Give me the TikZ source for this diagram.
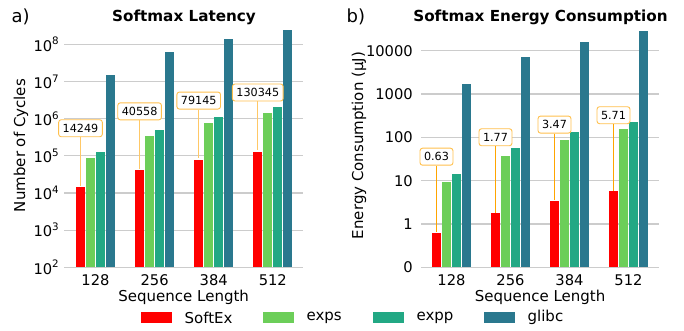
\documentclass[tikz,border=0pt]{standalone}
\usepackage{fontspec}
\setmainfont{DejaVu Sans}
\definecolor{cSoft}{HTML}{FF0000}
\definecolor{cExps}{HTML}{6CCE59}
\definecolor{cExpp}{HTML}{22A884}
\definecolor{cGlibc}{HTML}{2A788E}
\definecolor{gridc}{HTML}{CCCCCC}
\definecolor{annbox}{HTML}{FFC04D}
\definecolor{annlineA}{HTML}{FFC866}
\definecolor{annlineB}{HTML}{FFA500}
\newcommand\tenpow[1]{10\raisebox{0.42em}{\fontsize{10.3}{10}\selectfont #1}}
\begin{document}
\begin{tikzpicture}[x=1pt,y=-1pt,
  gridline/.style={draw=gridc,line width=1.1pt},
  ticklab/.style={font=\fontsize{14.7}{17}\selectfont,inner sep=0pt},
  axlab/.style={font=\fontsize{15}{18}\selectfont,inner sep=0pt},
  ttl/.style={font=\fontsize{15.2}{18}\selectfont\bfseries,inner sep=0pt},
  panel/.style={font=\fontsize{18}{20}\selectfont,inner sep=0pt,anchor=west},
  annbox/.style={draw=annbox,fill=white,rounded corners=2.5pt,line width=0.9pt,
    font=\fontsize{11.2}{13}\selectfont,inner xsep=4pt,inner ysep=0pt,
    minimum height=17pt},
  legswatch/.style={minimum width=31pt,minimum height=11pt,inner sep=0pt,anchor=west},
  legtext/.style={font=\fontsize{15}{18}\selectfont,inner sep=0pt,anchor=west}]
\useasboundingbox (0,0) rectangle (684,331);

% ---------- panel a: latency (log scale, 10^2 .. 10^8) ----------
\foreach \e in {2,...,8}{
  \draw[gridline] (64,{267.3-37.17*(\e-2)}) -- (303,{267.3-37.17*(\e-2)});
  \node[ticklab,anchor=east] (ytA\e) at (59,{267.3-37.17*(\e-2)}) {\tenpow{\e}};
}
\foreach \g/\a/\b/\c/\d/\lab/\xl in
  {0/4.1538/4.95/5.10/7.17/14249/128,
   1/4.6081/5.54/5.69/7.79/40558/256,
   2/4.8984/5.88/6.04/8.14/79145/384,
   3/5.1151/6.15/6.31/8.38/130345/512}{
  \pgfmathsetmacro\x{76+59.1*\g}
  \fill[cSoft]  (\x,267.3) rectangle ({\x+9},{267.3-37.17*(\a-2)});
  \fill[cExps]  ({\x+10},267.3) rectangle ({\x+19},{267.3-37.17*(\b-2)});
  \fill[cExpp]  ({\x+20},267.3) rectangle ({\x+29},{267.3-37.17*(\c-2)});
  \fill[cGlibc] ({\x+30},267.3) rectangle ({\x+39},{267.3-37.17*(\d-2)});
  \coordinate (tipA\g) at ({\x+4.5},{267.3-37.17*(\a-2)-1.5});
  \node[annbox] (boxA\g) at ({\x+4.5},{267.3-37.17*(\a-2)-59}) {\lab};
  \draw[annlineA,line width=1pt] (boxA\g.south) -- (tipA\g);
  \node[ticklab] (xtA\g) at ({\x+19.5},280) {\xl};
}
\node[axlab] (xlabA) at (183.7,297.7) {Sequence Length};
\node[axlab,rotate=90] (ylabA) at (21,145.5) {Number of Cycles};
\node[ttl] (ttlA) at (184,17) {Softmax Latency};
\node[panel] (pa) at (11.5,17) {a)};

% ---------- panel b: energy (log scale, 0.1 .. 10^4) ----------
\foreach \v/\t in {-1/0,0/1,1/10,2/100,3/1000,4/10000}{
  \draw[gridline] (421,{224.0-43.32*\v}) -- (659,{224.0-43.32*\v});
  \node[ticklab,anchor=east] (ytB\t) at (413,{224.0-43.32*\v}) {\t};
}
\foreach \g/\a/\b/\c/\d/\lab/\xl in
  {0/-0.2007/0.98/1.145/3.24/0.63/128,
   1/0.2480/1.58/1.746/3.85/1.77/256,
   2/0.5403/1.93/2.115/4.19/3.47/384,
   3/0.7566/2.185/2.346/4.45/5.71/512}{
  \pgfmathsetmacro\x{432+59*\g}
  \fill[cSoft]  (\x,267.3) rectangle ({\x+9},{224.0-43.32*\a});
  \fill[cExps]  ({\x+10},267.3) rectangle ({\x+19},{224.0-43.32*\b});
  \fill[cExpp]  ({\x+20},267.3) rectangle ({\x+29},{224.0-43.32*\c});
  \fill[cGlibc] ({\x+30},267.3) rectangle ({\x+39},{224.0-43.32*\d});
  \coordinate (tipB\g) at ({\x+4.5},{224.0-43.32*\a-0.5});
  \node[annbox] (boxB\g) at ({\x+4.5},{224.0-43.32*\a-76}) {\lab};
  \draw[annlineB,line width=1pt] (boxB\g.south) -- (tipB\g);
  \node[ticklab] (xtB\g) at ({\x+19.5},280) {\xl};
}
\node[axlab] (xlabB) at (540,297.7) {Sequence Length};
\node[axlab,rotate=90] (ylabB) at (359,145.5) {Energy Consumption (μJ)};
\node[ttl] (ttlB) at (540.5,17) {Softmax Energy Consumption};
\node[panel] (pb) at (346.5,17) {b)};

% ---------- legend ----------
\node[legswatch,fill=cSoft]  (lg1) at (141,317.5) {};
\node[legtext] (lt1) at ([xshift=12pt]lg1.east) {SoftEx};
\node[legswatch,fill=cExps]  (lg2) at (263,317.5) {};
\node[legtext] (lt2) at ([xshift=12pt]lg2.east) {exps};
\node[legswatch,fill=cExpp]  (lg3) at (373,317.5) {};
\node[legtext] (lt3) at ([xshift=12pt]lg3.east) {expp};
\node[legswatch,fill=cGlibc] (lg4) at (484,317.5) {};
\node[legtext] (lt4) at ([xshift=12pt]lg4.east) {glibc};
\end{tikzpicture}
\end{document}
